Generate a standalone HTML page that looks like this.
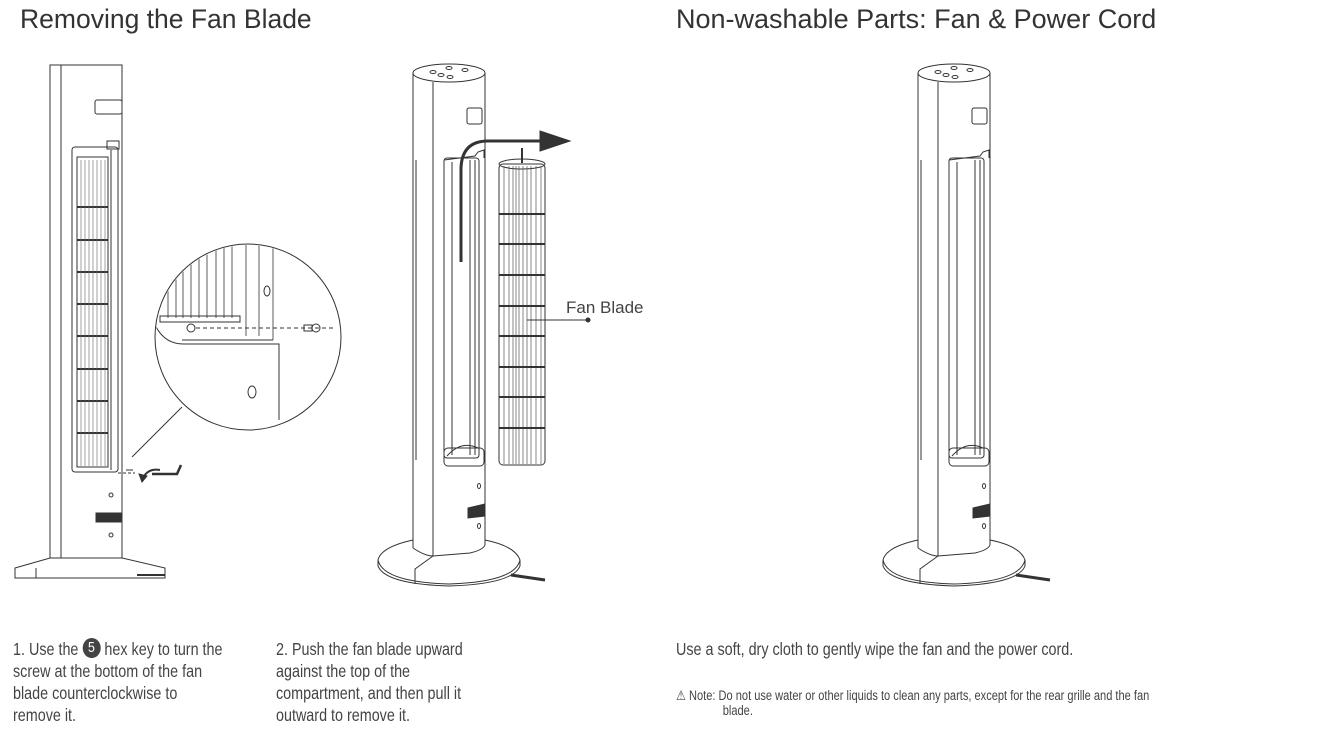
<!DOCTYPE html>
<html><head><meta charset="utf-8"><style>
html,body{margin:0;padding:0;background:#fff;}
body{width:1318px;height:743px;position:relative;overflow:hidden;font-family:"Liberation Sans",sans-serif;color:#444;}
.t{position:absolute;white-space:nowrap;transform:scaleX(0.82);transform-origin:0 0;}
h1{position:absolute;margin:0;font-weight:normal;font-size:27px;color:#333;white-space:nowrap;font-family:"Liberation Sans",sans-serif;}
.cap{position:absolute;font-size:17.5px;line-height:22px;white-space:nowrap;color:#444;transform:scaleX(0.82);transform-origin:0 0;}
.n5{display:inline-block;width:22px;height:1px;position:relative;vertical-align:baseline;}
.n5 b{position:absolute;left:0;top:-16px;width:22px;height:20px;border-radius:50%;background:#444;color:#fff;text-align:center;line-height:20px;font-size:15px;font-weight:normal;}
</style></head><body>
<h1 style="left:20px;top:4px;font-size:26.5px;">Removing the Fan Blade</h1>
<h1 style="left:676px;top:4px;">Non-washable Parts: Fan &amp; Power Cord</h1>

<svg width="1318" height="743" style="position:absolute;left:0;top:0" fill="none" stroke="#333" stroke-width="1">
<defs>
<g id="fan">
 <ellipse cx="954" cy="73" rx="36" ry="9"/>
 <ellipse cx="938" cy="72" rx="3" ry="1.5"/><ellipse cx="954" cy="68" rx="3" ry="1.5"/><ellipse cx="970" cy="70" rx="3" ry="1.5"/><ellipse cx="946" cy="75" rx="3" ry="1.5"/><ellipse cx="955" cy="77" rx="3" ry="1.5"/>
 <line x1="918" y1="73" x2="918" y2="548"/>
 <line x1="990" y1="73" x2="990" y2="545"/>
 <line x1="938" y1="82" x2="938" y2="556"/>
 <path d="M918 548 Q930 556 938 556 L975 553 Q988 550 990 545"/>
 <line x1="921" y1="160" x2="921" y2="460"/>
 <rect x="972" y="108" width="15" height="16" rx="2"/>
 <path d="M949 160 L980 156 L983 152 L989 150 L989 158"/>
 <rect x="949" y="158" width="35" height="300" rx="3"/>
 <line x1="957" y1="162" x2="957" y2="455"/>
 <line x1="975" y1="160" x2="975" y2="455"/>
 <line x1="980" y1="160" x2="980" y2="455"/>
 <path d="M952 456 Q966 440 983 448"/>
 <rect x="949" y="448" width="40" height="18" rx="4"/>
 <ellipse cx="984" cy="486" rx="1.5" ry="2.5"/>
 <ellipse cx="984" cy="526" rx="1.5" ry="2.5"/>
 <path d="M973 508 L990 504 L990 516 L973 518 Z" fill="#333"/>
 <path d="M918 540 Q886 547 883 560 Q888 582 954 584 Q1020 582 1025 560 Q1020 546 990 540"/>
 <path d="M883 560 L883 566 Q890 584 954 586 Q1018 584 1025 566 L1025 560"/>
 <path d="M938 556 L920 569 L920 584"/>
 <path d="M1016 575 L1050 580" stroke-width="3"/>
</g>
</defs>
<use href="#fan"/>
<use href="#fan" transform="translate(-505,0)"/>

<ellipse cx="522" cy="164" rx="23" ry="5"/>
<line x1="522" y1="148" x2="522" y2="163" stroke-width="2"/>
<rect x="499" y="164" width="46" height="301" rx="4"/>
<g stroke="#555" stroke-width="0.7">
 <line x1="504" y1="166" x2="504" y2="464"/><line x1="509" y1="166" x2="509" y2="464"/><line x1="513" y1="166" x2="513" y2="464"/><line x1="516" y1="166" x2="516" y2="464"/><line x1="519" y1="166" x2="519" y2="464"/><line x1="523" y1="166" x2="523" y2="464"/><line x1="527" y1="166" x2="527" y2="464"/><line x1="531" y1="166" x2="531" y2="464"/><line x1="536" y1="166" x2="536" y2="464"/><line x1="541" y1="166" x2="541" y2="464"/>
</g>
<g stroke-width="2">
 <line x1="499" y1="214" x2="545" y2="214"/><line x1="499" y1="244" x2="545" y2="244"/><line x1="499" y1="275" x2="545" y2="275"/><line x1="499" y1="306" x2="545" y2="306"/><line x1="499" y1="336" x2="545" y2="336"/><line x1="499" y1="367" x2="545" y2="367"/><line x1="499" y1="397" x2="545" y2="397"/><line x1="499" y1="428" x2="545" y2="428"/>
</g>
<path d="M461 262 L461 168 Q462 141 488 141 L545 141" stroke-width="3"/>
<path d="M540 131 L570 141 L540 151 Z" fill="#333"/>
<line x1="527" y1="320" x2="588" y2="320"/>
<circle cx="588" cy="320" r="2" fill="#333"/>
<text x="566" y="313" font-family="Liberation Sans, sans-serif" font-size="17" fill="#444" stroke="none">Fan Blade</text>

<rect x="50" y="65" width="72" height="493"/>
<line x1="61" y1="65" x2="61" y2="558"/>
<rect x="95" y="100" width="27" height="14" rx="2"/>
<rect x="72" y="147" width="46" height="325" rx="3"/>
<rect x="107" y="141" width="12" height="8"/>
<rect x="77" y="157" width="31" height="310"/>
<g stroke-width="2">
 <line x1="77" y1="207" x2="108" y2="207"/><line x1="77" y1="240" x2="108" y2="240"/><line x1="77" y1="272" x2="108" y2="272"/><line x1="77" y1="304" x2="108" y2="304"/><line x1="77" y1="336" x2="108" y2="336"/><line x1="77" y1="369" x2="108" y2="369"/><line x1="77" y1="401" x2="108" y2="401"/><line x1="77" y1="433" x2="108" y2="433"/>
</g>
<g stroke="#666" stroke-width="0.6">
 <line x1="81" y1="160" x2="81" y2="466"/><line x1="85" y1="160" x2="85" y2="466"/><line x1="89" y1="160" x2="89" y2="466"/><line x1="93" y1="160" x2="93" y2="466"/><line x1="97" y1="160" x2="97" y2="466"/><line x1="101" y1="160" x2="101" y2="466"/><line x1="105" y1="160" x2="105" y2="466"/>
</g>
<line x1="111" y1="150" x2="111" y2="470"/>
<circle cx="111" cy="495" r="2"/><circle cx="111" cy="535" r="2"/>
<rect x="96" y="513" width="25" height="9" fill="#333"/>
<path d="M15 568 L50 558 L122 558 L165 568 L165 578 L15 578 Z"/>
<line x1="36" y1="568" x2="36" y2="578"/>
<path d="M137 575 L165 575" stroke-width="2"/>
<circle cx="248" cy="337" r="93"/>
<clipPath id="cc"><circle cx="248" cy="337" r="92"/></clipPath>
<g clip-path="url(#cc)">
 <g stroke-width="0.8">
 <line x1="168" y1="240" x2="168" y2="318"/><line x1="176" y1="240" x2="176" y2="318"/><line x1="183" y1="240" x2="183" y2="318"/><line x1="191" y1="240" x2="191" y2="318"/><line x1="199" y1="240" x2="199" y2="318"/><line x1="207" y1="240" x2="207" y2="318"/><line x1="216" y1="240" x2="216" y2="318"/><line x1="224" y1="240" x2="224" y2="318"/><line x1="232" y1="240" x2="232" y2="318"/><line x1="246" y1="240" x2="246" y2="336"/><line x1="259" y1="240" x2="259" y2="336"/><line x1="273" y1="240" x2="273" y2="340"/>
 </g>
 <rect x="160" y="316" width="80" height="6"/>
 <line x1="196" y1="328" x2="336" y2="328" stroke-dasharray="4,3"/>
 <circle cx="191" cy="328" r="4"/>
 <path d="M304 325 L312 325 L312 331 L304 331 Z"/><circle cx="316" cy="328" r="4"/>
 <path d="M150 310 Q158 345 185 344 L279 344 L279 420"/>
 <line x1="182" y1="340" x2="273" y2="340"/>
 <ellipse cx="267" cy="291" rx="3" ry="5"/>
 <ellipse cx="252" cy="392" rx="4" ry="6"/>
</g>
<line x1="182" y1="407" x2="132" y2="457"/>
<line x1="126" y1="470" x2="133" y2="470"/>
<line x1="118" y1="473" x2="135" y2="473" stroke-dasharray="3,2"/>
<path d="M160 470 Q148 468 143 478" stroke-width="2"/>
<path d="M139 474 L142 482 L147 476 Z" fill="#333"/>
<path d="M152 474 L177 474 L181 465" stroke-width="2.5"/>
</svg>

<div class="cap" style="left:13px;top:638px;">1. Use the <span class="n5"><b>5</b></span> hex key to turn the<br>screw at the bottom of the fan<br>blade counterclockwise to<br>remove it.</div>
<div class="cap" style="left:276px;top:638px;">2. Push the fan blade upward<br>against the top of the<br>compartment, and then pull it<br>outward to remove it.</div>
<div class="cap" style="left:676px;top:638px;">Use a soft, dry cloth to gently wipe the fan and the power cord.</div>
<div class="t" style="left:676px;top:688px;font-size:13.5px;line-height:15px;color:#444;">⚠ Note: Do not use water or other liquids to clean any parts, except for the rear grille and the fan<br><span style="padding-left:57px">blade.</span></div>
</body></html>
